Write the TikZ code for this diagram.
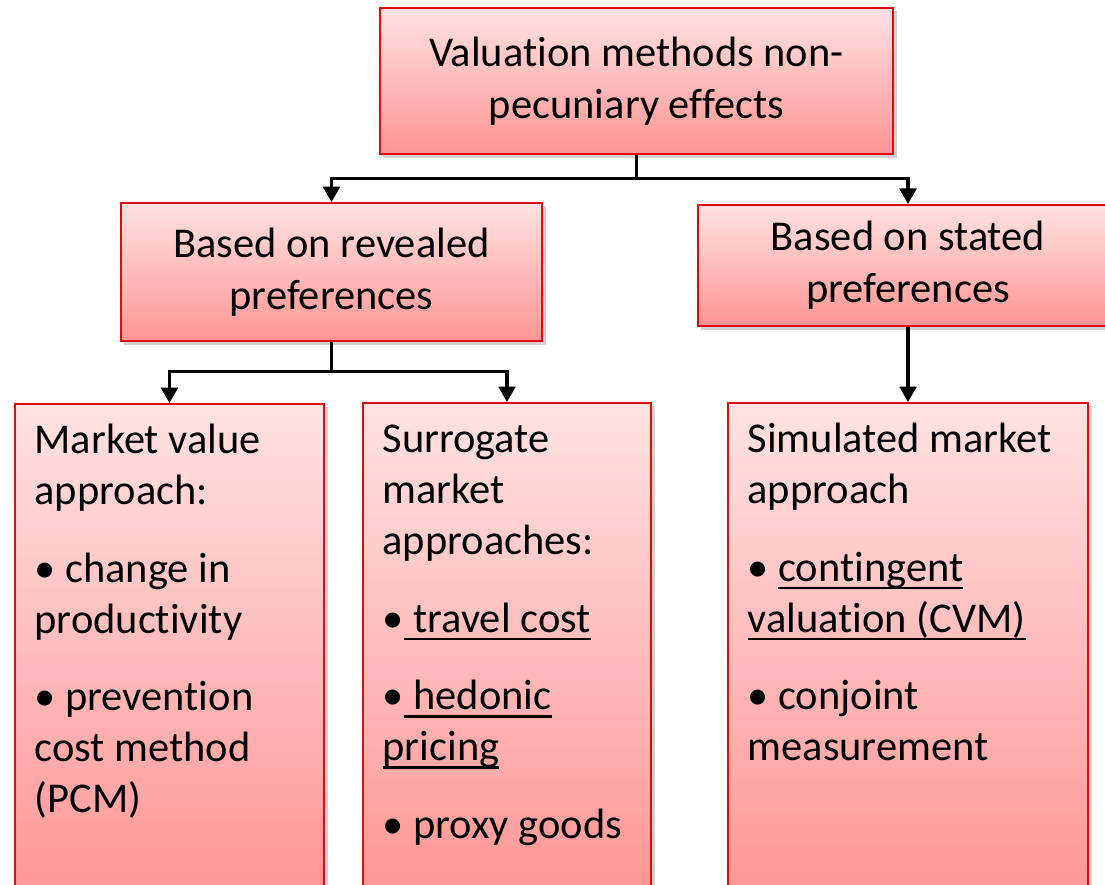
\documentclass[tikz,border=0pt]{standalone}
\usepackage{fontspec}
\setmainfont[Ligatures=NoCommon]{Carlito}
\usetikzlibrary{arrows.meta, shadows}
\definecolor{boxtop}{RGB}{255,226,226}
\definecolor{boxbottom}{RGB}{255,148,148}
\definecolor{boxline}{RGB}{222,12,12}
\newcommand{\undl}[1]{\setbox0\hbox{#1}\leavevmode\rlap{\vrule height -4pt depth 5.8pt width \wd0}\box0}
\newcommand{\listtext}[3]{\parbox[t][#2][t]{#1}{\strut #3}}

\begin{document}
\begin{tikzpicture}[x=0.025cm, y=-0.025cm,
    valbox/.style={draw=boxline, line width=1.3pt, top color=boxtop, bottom color=boxbottom,
        drop shadow={shadow xshift=2.5pt, shadow yshift=-2.5pt, opacity=0.3, fill=black!60},
        font=\fontsize{30.2pt}{36.8pt}\selectfont},
    headbox/.style={valbox, align=center, inner sep=0pt},
    listbox/.style={valbox, anchor=north west, inner xsep=14pt, inner ysep=10pt,
        font=\fontsize{30.2pt}{36.2pt}\selectfont},
    conn/.style={line width=2.2pt, -{Triangle[length=11pt, width=12pt]}}]

    \useasboundingbox (0,0) rectangle (1105,885);
    \clip (0,0) rectangle (1105,885);

    % upper level
    \node[headbox, minimum width=12.83cm, minimum height=3.65cm] (valuation) at (636.5,81) {Valuation methods non-\\pecuniary effects};
    \node[headbox, minimum width=10.53cm, minimum height=3.45cm] (revealed) at (331.5,272) {Based on revealed\\preferences};
    \node[headbox, minimum width=10.5cm, minimum height=3.03cm] (stated) at (908,265.5) {Based on stated\\preferences};

    % lower level
    \node[listbox] (market) at (14,403) {\listtext{191.8pt}{337pt}{Market value\\approach:\\[19pt]\textbullet{} change in\\productivity\\[19pt]\textbullet{} prevention\\cost method\\(PCM)}};
    \node[listbox] (surrogate) at (362,402) {\listtext{176.9pt}{337pt}{Surrogate\\market\\approaches:\\[19pt]\textbullet\undl{ travel cost}\\[19pt]\textbullet\undl{ hedonic}\\\undl{pricing}\\[19pt]\textbullet{} proxy goods}};
    \node[listbox] (simulated) at (727,402) {\listtext{228.1pt}{337pt}{Simulated market\\approach\\[19pt]\textbullet{} \undl{contingent}\\\undl{valuation (CVM)}\\[19pt]\textbullet{} conjoint\\measurement}};

    \draw[conn] (valuation.south) -- ++(0,24) -| (revealed.north);
    \draw[conn] (valuation.south) -- ++(0,24) -| (stated.north);
    \draw[conn] (revealed.south) -- ++(0,30) -| (market.north);
    \draw[conn] (revealed.south) -- ++(0,30) -| (surrogate.north);
    \draw[conn] (stated.south) -- (stated.south |- simulated.north);
\end{tikzpicture}
\end{document}
